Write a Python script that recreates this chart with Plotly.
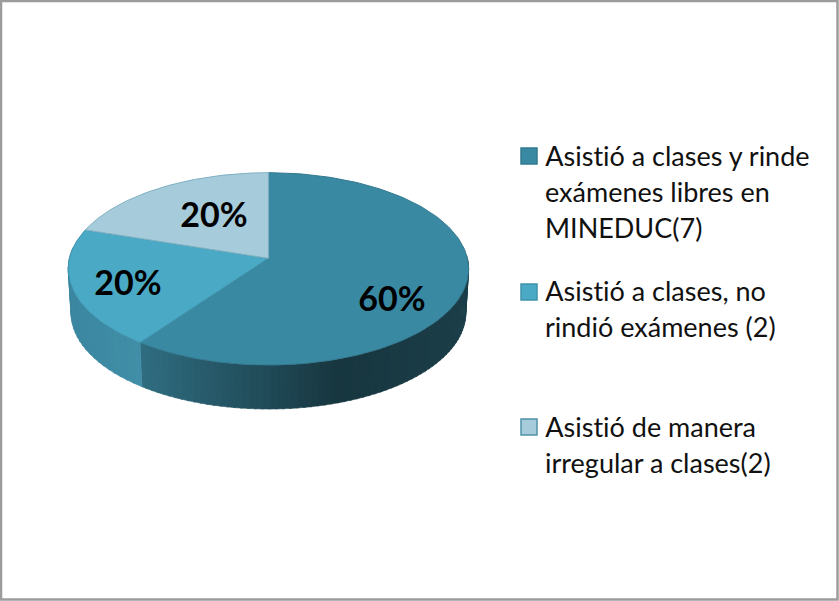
import math
import plotly.graph_objects as go

categories = ["Asistió a clases y rinde exámenes libres en MINEDUC(7)",
              "Asistió a clases, no rindió exámenes (2)",
              "Asistió de manera irregular a clases(2)"]
legend_lines = [["Asistió a clases y rinde", "exámenes libres en", "MINEDUC(7)"],
                ["Asistió a clases, no", "rindió exámenes (2)"],
                ["Asistió de manera", "irregular a clases(2)"]]
values = [60, 20, 20]
labels = ["60%", "20%", "20%"]
colors = ["#3A89A3", "#4AA9C5", "#A6CBDA"]
edge_colors = ["#33798F", "#3F93AB", "#7FB0C2"]

# projection of the tilted disc onto the page (pixels)
CX, CY, A, K, P = 268.4, 258.3, 199.0, 95.0, 0.1097
DEPTH = 44.0
SHRINK = 0.986

def rim(theta):
    u, v = math.sin(theta), math.cos(theta)
    w = 1 + P * v
    return CX + A * u / w, CY - K * v / w

def rim_low(theta):
    x, y = rim(theta)
    return CX + (x - CX) * SHRINK, y + DEPTH

def lerp(c1, c2, t):
    a = [int(c1[i:i + 2], 16) for i in (1, 3, 5)]
    b = [int(c2[i:i + 2], 16) for i in (1, 3, 5)]
    return "rgb(%d,%d,%d)" % tuple(round(p + (q - p) * t) for p, q in zip(a, b))

def side_color(x, i):
    if i == 0:
        t = min(1.0, max(0.0, (x - 143) / 195))
        return lerp("#2F6C80", "#17363F", t) if x < 338 else lerp("#17363F", "#1B3E49", (x - 338) / 130)
    t = min(1.0, max(0.0, (x - 71) / 72))
    return lerp("#3B86A0", "#418FA8", t)

fig = go.Figure()
total = sum(values)
bounds = [0.0]
for v in values:
    bounds.append(bounds[-1] + v / total * 2 * math.pi)

# side walls: narrow strips along the front part of each slice
for i in range(2):
    start = bounds[i]
    end = min(bounds[i + 1], 1.5 * math.pi + 0.12)
    if i == 0:
        start = 0.5 * math.pi - 0.03
    n = 70 if i == 0 else 24
    for k in range(n):
        a0 = start + (end - start) * k / n
        a1 = start + (end - start) * (k + 1.25) / n
        a1 = min(a1, end)
        p = [rim(a0), rim(a1), rim_low(a1), rim_low(a0), rim(a0)]
        col = side_color((p[0][0] + p[1][0]) / 2, i)
        fig.add_trace(go.Scatter(x=[q[0] for q in p], y=[q[1] for q in p], mode="lines",
                                 fill="toself", fillcolor=col, line=dict(width=0.6, color=col),
                                 hoverinfo="skip", showlegend=False))

# top face
for i, col in enumerate(colors):
    steps = max(8, int(values[i] * 3))
    pts = [(CX, CY)]
    for k in range(steps + 1):
        pts.append(rim(bounds[i] + (bounds[i + 1] - bounds[i]) * k / steps))
    pts.append((CX, CY))
    fig.add_trace(go.Scatter(x=[q[0] for q in pts], y=[q[1] for q in pts], mode="lines",
                             fill="toself", fillcolor=col, line=dict(width=1, color=edge_colors[i]),
                             name=categories[i], hoverinfo="skip", showlegend=False))

# percentage labels
label_pos = [(392, 302), (128, 286), (214, 218)]
fig.add_trace(go.Scatter(x=[p[0] for p in label_pos], y=[p[1] for p in label_pos], mode="text",
                         text=labels, textposition="middle center",
                         textfont=dict(family="Lato", size=34, color="#000000", weight="bold"),
                         hoverinfo="skip", showlegend=False))

# key: squares plus one text row per line
key_y = [156, 292, 427]
text_y = [155, 290, 426]
fig.add_trace(go.Scatter(x=[529] * 3, y=key_y, mode="markers",
                         marker=dict(symbol="square", size=16, color=colors,
                                     line=dict(width=1.5, color=["#33798F", "#3F93AB", "#4F94AB"])),
                         hoverinfo="skip", showlegend=False))
annotations = []
for y0, rows in zip(text_y, legend_lines):
    for j, row in enumerate(rows):
        annotations.append(dict(x=545, y=y0 + 36 * j, xref="x", yref="y", text=row, showarrow=False,
                                xanchor="left", yanchor="middle", xshift=-2,
                                font=dict(family="Lato", size=27, color="#111111")))

fig.update_layout(
    width=839, height=601, margin=dict(l=0, r=0, t=0, b=0),
    paper_bgcolor="#FFFFFF", plot_bgcolor="#FFFFFF", showlegend=False,
    xaxis=dict(range=[0, 839], visible=False, fixedrange=True),
    yaxis=dict(range=[601, 0], visible=False, fixedrange=True),
    annotations=annotations,
    shapes=[dict(type="rect", xref="x", yref="y", x0=1, y0=1, x1=837.5, y1=599.5,
                 line=dict(color="#9C9C9C", width=2.5), fillcolor="rgba(0,0,0,0)")],
)
fig.write_html("out.html", config={"displayModeBar": False},
               post_script="document.body.style.margin='0';document.body.style.overflow='hidden';"
                           "document.body.style.fontVariantLigatures='none';"
                           "document.body.style.fontFeatureSettings='\"liga\" 0';")
